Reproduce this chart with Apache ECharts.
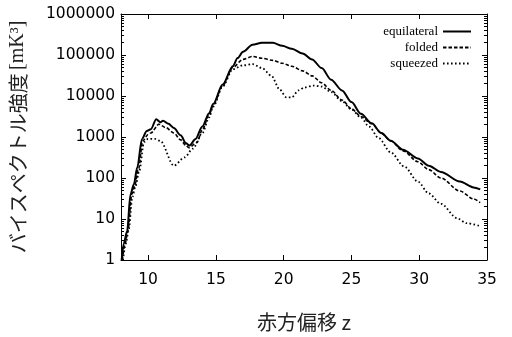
<!DOCTYPE html>
<html><head><meta charset="utf-8">
<script src="https://cdn.jsdelivr.net/npm/echarts@6/dist/echarts.min.js"></script>
<style>html,body{margin:0;padding:0;background:#fff}#c{width:512px;height:337px}</style>
</head><body><div id="c"></div>
<script>
// ---- data ----
const seriesNames = ['equilateral', 'folded', 'squeezed'];
const zEq = [8.05, 8.2, 8.45, 8.7, 8.95, 9.2, 9.55, 9.9, 10.2, 10.6, 10.9, 11.1, 11.5, 11.9, 12.4, 12.8, 13.05, 13.5, 14.0, 14.5, 14.8, 15.5, 16.25, 16.6, 17.0, 17.7, 18.4, 19.2, 19.9, 20.6, 21.4, 22.1, 22.8, 23.5, 24.3, 25.0, 25.7, 26.5, 27.2, 27.9, 28.8, 29.9, 30.7, 31.6, 33.0, 34.0, 34.5];
const eqVals = [1, 2.5, 5, 40, 70, 180, 900, 1400, 1550, 2700, 2300, 2500, 2100, 1650, 1100, 700, 620, 900, 1800, 3800, 6400, 19000, 53000, 84000, 120000, 178000, 198000, 198000, 167000, 142000, 109000, 78000, 48000, 25000, 13700, 7100, 3700, 2150, 1250, 810, 490, 300, 200, 141, 82, 59, 53];
const zFo = [8.1, 8.3, 8.5, 8.8, 9.0, 9.3, 9.6, 10.0, 10.2, 10.8, 11.3, 11.9, 12.4, 12.8, 13.0, 13.6, 14.0, 14.5, 14.8, 15.5, 16.25, 17.0, 17.7, 18.4, 19.2, 19.9, 20.6, 21.4, 22.1, 22.8, 23.5, 24.3, 25.0, 25.7, 26.5, 27.2, 27.9, 28.8, 29.9, 30.7, 31.6, 33.0, 34.0, 34.5];
const foVals = [1, 2.5, 5, 40, 65, 170, 800, 1150, 1250, 2050, 1700, 1250, 850, 620, 550, 730, 1500, 3500, 6000, 18000, 50000, 78000, 92000, 83000, 74000, 63000, 53000, 41000, 31000, 21000, 13700, 8000, 4900, 3150, 2100, 1250, 800, 460, 250, 160, 100, 48, 31, 25];
const zSq = [8.15, 8.35, 8.55, 8.85, 9.05, 9.35, 9.7, 10.0, 10.5, 10.9, 11.9, 12.7, 13.3, 14.0, 14.5, 14.8, 15.5, 16.25, 17.0, 17.7, 18.4, 19.1, 19.7, 20.2, 20.6, 21.1, 21.5, 22.2, 22.8, 23.5, 24.3, 25.0, 25.7, 26.3, 27.0, 27.9, 28.9, 29.9, 30.7, 31.6, 32.8, 33.5, 34.5];
const sqVals = [1, 2.5, 5, 35, 60, 150, 750, 900, 900, 800, 200, 320, 520, 1250, 3000, 5500, 17000, 45000, 56000, 60000, 48000, 31000, 14500, 9300, 9300, 13700, 16000, 18000, 17000, 12500, 7500, 4700, 3000, 1800, 950, 420, 190, 82, 42, 23.5, 10.4, 7.9, 6.7];
const xTicks = [10, 15, 20, 25, 30, 35];
const yTicks = [1, 10, 100, 1000, 10000, 100000, 1000000];
const yTitle = 'バイスペクトル強度';
const yUnit = '[mK³]';
const xTitle = '赤方偏移 z';

const yMinorTicks = [];
for (let d = 1; d < 1000000; d *= 10) for (let k = 2; k <= 9; k++) yMinorTicks.push(d * k);

const pair = (zs, vs) => zs.map((z, i) => [z, vs[i]]);
const styles = [
  { width: 2, type: 'solid' },
  { width: 1.6, type: [3.5, 2] },
  { width: 1.8, type: [1.6, 2.4] }
];
const datas = [pair(zEq, eqVals), pair(zFo, foVals), pair(zSq, sqVals)];

const chart = echarts.init(document.getElementById('c'), null, { renderer: 'canvas' });
const axisLineStyle = { color: '#000', width: 1 };
const tickFont = { fontFamily: 'DejaVu Sans', fontSize: 15.5, color: '#000' };
chart.setOption({
  animation: false,
  grid: { left: 117, right: 25, top: 14, bottom: 69 },
  legend: {
    data: seriesNames,
    orient: 'vertical', right: 35, top: 20, align: 'right',
    itemWidth: 28, itemHeight: 12, itemGap: 3,
    itemStyle: { opacity: 0 },
    textStyle: { fontFamily: 'Liberation Serif', fontSize: 13, color: '#000' }
  },
  xAxis: [{
    type: 'value', min: 8, max: 35, position: 'bottom',
    name: xTitle, nameLocation: 'middle', nameGap: 52,
    nameTextStyle: { fontFamily: 'Noto Sans CJK JP', fontSize: 20, color: '#222' },
    axisLine: { show: true, lineStyle: axisLineStyle },
    axisTick: { show: true, inside: true, length: 5, customValues: xTicks, lineStyle: axisLineStyle },
    axisLabel: { customValues: xTicks, margin: 12, ...tickFont },
    splitLine: { show: false }
  }, {
    type: 'value', min: 8, max: 35, position: 'top',
    axisLine: { show: true, lineStyle: axisLineStyle },
    axisTick: { show: true, inside: true, length: 5, customValues: xTicks, lineStyle: axisLineStyle },
    axisLabel: { show: false }, splitLine: { show: false }
  }],
  yAxis: [{
    type: 'log', logBase: 10, min: 1, max: 1000000, position: 'left',
    name: '{j|' + yTitle + '} {u|' + yUnit + '}', nameLocation: 'middle', nameGap: 93, nameRotate: 90,
    nameTextStyle: {
      rich: {
        j: { fontFamily: 'Noto Sans CJK JP', fontSize: 20, color: '#222' },
        u: { fontFamily: 'Liberation Serif', fontSize: 20, color: '#222' }
      }
    },
    axisLine: { show: true, lineStyle: axisLineStyle },
    axisTick: { show: true, inside: true, length: 5, customValues: yTicks, lineStyle: axisLineStyle },
    axisLabel: { customValues: yTicks, margin: 6, formatter: v => String(Math.round(v)), ...tickFont },
    splitLine: { show: false }
  }, {
    type: 'log', logBase: 10, min: 1, max: 1000000, position: 'right',
    axisLine: { show: true, lineStyle: axisLineStyle },
    axisTick: { show: true, inside: true, length: 5, customValues: yTicks, lineStyle: axisLineStyle },
    axisLabel: { show: false }, splitLine: { show: false }
  }, {
    type: 'log', logBase: 10, min: 1, max: 1000000, position: 'left',
    axisLine: { show: false },
    axisTick: { show: true, inside: true, length: 3, customValues: yMinorTicks, lineStyle: axisLineStyle },
    axisLabel: { show: false }, splitLine: { show: false }
  }, {
    type: 'log', logBase: 10, min: 1, max: 1000000, position: 'right',
    axisLine: { show: false },
    axisTick: { show: true, inside: true, length: 3, customValues: yMinorTicks, lineStyle: axisLineStyle },
    axisLabel: { show: false }, splitLine: { show: false }
  }],
  series: seriesNames.map((n, i) => ({
    name: n, type: 'line', data: datas[i], symbol: 'none', showSymbol: false,
    smooth: 0.3, smoothMonotone: 'x', clip: true,
    lineStyle: { color: '#000', width: styles[i].width, type: styles[i].type },
    itemStyle: { color: '#000' }
  }))
});
</script></body></html>
